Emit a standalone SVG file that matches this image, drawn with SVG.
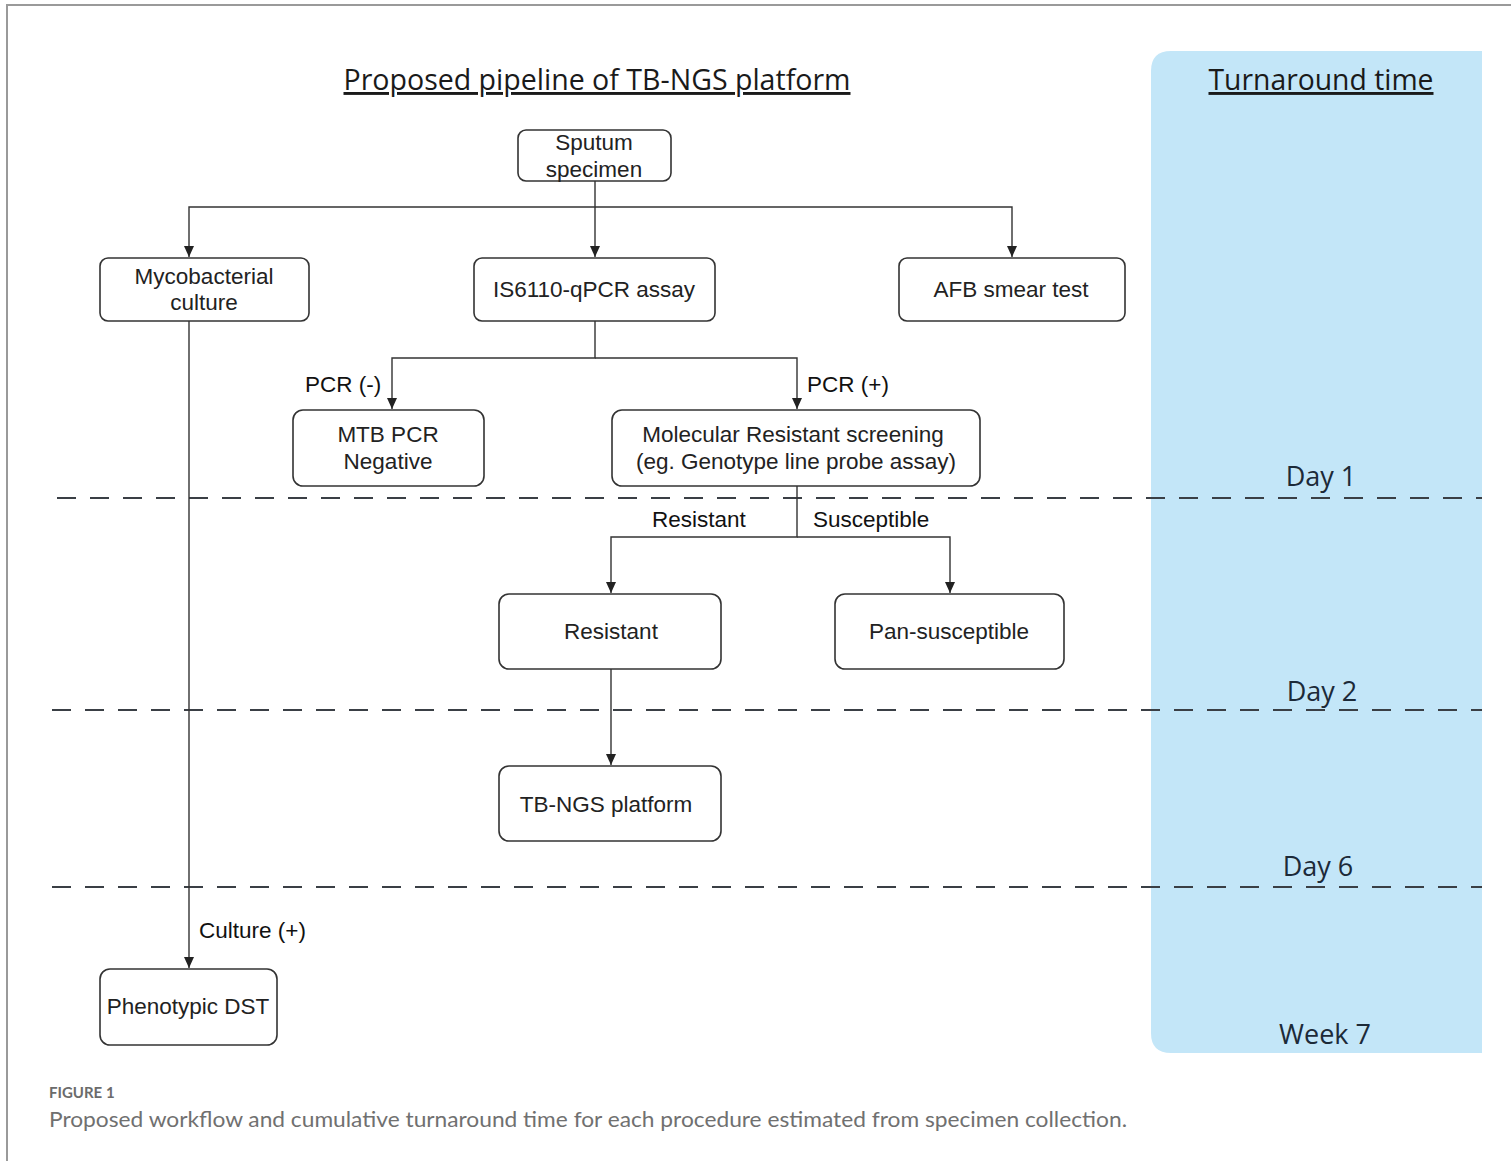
<svg xmlns="http://www.w3.org/2000/svg" width="1511" height="1161" viewBox="0 0 1511 1161">
<style>
.box{fill:#fff;stroke:#333;stroke-width:1.6}
.t{font-family:"Liberation Sans",Arial,sans-serif;font-size:22.5px;fill:#222;text-anchor:middle}
.lab{font-family:"Liberation Sans",Arial,sans-serif;font-size:22.5px;fill:#111}
.con{fill:none;stroke:#333;stroke-width:1.4}
.dash{stroke:#3a3f45;stroke-width:2;stroke-dasharray:19 14}
.hd{font-family:"Open Sans","Noto Sans",sans-serif;font-size:29px;fill:#1a1a1a;text-anchor:middle;text-decoration:underline}
.day{font-family:"Open Sans","Noto Sans",sans-serif;font-size:27px;fill:#1c2a38;text-anchor:middle}
</style>
<defs>
<marker id="arr" markerWidth="11" markerHeight="11" refX="11" refY="5.5" orient="auto" markerUnits="userSpaceOnUse" viewBox="0 0 11 11">
<path d="M0,0.5 L11,5.5 L0,10.5 Z" fill="#222"/>
</marker>
</defs>
<rect x="0" y="0" width="1511" height="1161" fill="#fff"/>
<path d="M7,1161 V5 H1511" fill="none" stroke="#9a9a9a" stroke-width="2"/>
<path id="panel" d="M1171,51 H1482 V1053 H1171 Q1151,1053 1151,1033 V71 Q1151,51 1171,51 Z" fill="#c3e6f8"/>
<text class="hd" x="597" y="90" textLength="507" lengthAdjust="spacingAndGlyphs">Proposed pipeline of TB-NGS platform</text>
<text class="hd" x="1321" y="90" textLength="225" lengthAdjust="spacingAndGlyphs">Turnaround time</text>
<g id="timelines">
<line class="dash" x1="57" y1="498" x2="1482" y2="498"/>
<line class="dash" x1="52" y1="710" x2="1482" y2="710"/>
<line class="dash" x1="52" y1="887" x2="1482" y2="887"/>
<text class="day" x="1321" y="486">Day 1</text>
<text class="day" x="1322" y="701">Day 2</text>
<text class="day" x="1318" y="876">Day 6</text>
<text class="day" x="1325" y="1044">Week 7</text>
</g>
<g id="connectors">
<path class="con" d="M595,181 V207 H189 V257" marker-end="url(#arr)"/>
<path class="con" d="M595,207 V257" marker-end="url(#arr)"/>
<path class="con" d="M595,207 H1012 V257" marker-end="url(#arr)"/>
<path class="con" d="M595,321 V358 H392 V409" marker-end="url(#arr)"/>
<path class="con" d="M595,358 H797 V409" marker-end="url(#arr)"/>
<path class="con" d="M797,486 V537 H611 V593" marker-end="url(#arr)"/>
<path class="con" d="M797,537 H950 V593" marker-end="url(#arr)"/>
<path class="con" d="M611,669 V765" marker-end="url(#arr)"/>
<path class="con" d="M189,321 V968" marker-end="url(#arr)"/>
<text class="lab" x="305" y="392">PCR (-)</text>
<text class="lab" x="807" y="392">PCR (+)</text>
<text class="lab" x="652" y="527">Resistant</text>
<text class="lab" x="813" y="527">Susceptible</text>
<text class="lab" x="199" y="938">Culture (+)</text>
</g>
<g id="sputum"><rect class="box" x="518" y="130" width="153" height="51" rx="8"/><text class="t" x="594" y="150">Sputum</text><text class="t" x="594" y="177">specimen</text></g>
<g id="myco"><rect class="box" x="100" y="258" width="209" height="63" rx="8"/><text class="t" x="204" y="284">Mycobacterial</text><text class="t" x="204" y="310">culture</text></g>
<g id="qpcr"><rect class="box" x="474" y="258" width="241" height="63" rx="8"/><text class="t" x="594" y="297">IS6110-qPCR assay</text></g>
<g id="afb"><rect class="box" x="899" y="258" width="226" height="63" rx="8"/><text class="t" x="1011" y="297">AFB smear test</text></g>
<g id="mtbneg"><rect class="box" x="293" y="410" width="191" height="76" rx="10"/><text class="t" x="388" y="442">MTB PCR</text><text class="t" x="388" y="469">Negative</text></g>
<g id="molres"><rect class="box" x="612" y="410" width="368" height="76" rx="10"/><text class="t" x="793" y="442">Molecular Resistant screening</text><text class="t" x="796" y="469">(eg. Genotype line probe assay)</text></g>
<g id="resistant"><rect class="box" x="499" y="594" width="222" height="75" rx="10"/><text class="t" x="611" y="639">Resistant</text></g>
<g id="pansus"><rect class="box" x="835" y="594" width="229" height="75" rx="10"/><text class="t" x="949" y="639">Pan-susceptible</text></g>
<g id="tbngs"><rect class="box" x="499" y="766" width="222" height="75" rx="10"/><text class="t" x="606" y="812">TB-NGS platform</text></g>
<g id="pdst"><rect class="box" x="100" y="969" width="177" height="76" rx="10"/><text class="t" x="188" y="1014">Phenotypic DST</text></g>
<text x="49" y="1098" font-family="Lato,'Open Sans',sans-serif" font-size="15" font-weight="bold" fill="#6b6b6b">FIGURE 1</text>
<text x="49" y="1127" font-family="Lato,'Open Sans',sans-serif" font-size="21" fill="#707070" textLength="1078" lengthAdjust="spacingAndGlyphs">Proposed workflow and cumulative turnaround time for each procedure estimated from specimen collection.</text>
</svg>
